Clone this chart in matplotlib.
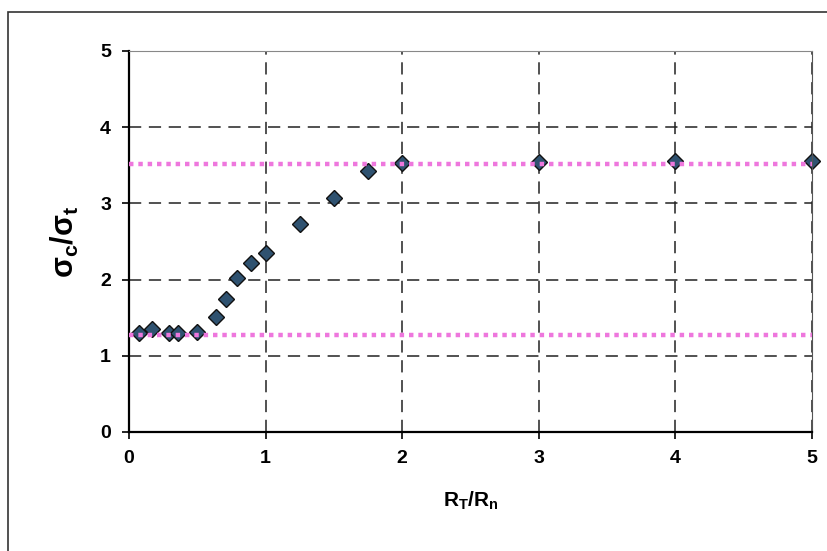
import matplotlib
matplotlib.use('Agg')
import matplotlib.pyplot as plt
from matplotlib.patches import Rectangle

# ratio R_T/R_n and the measured sigma_c/sigma_t
rt_rn = [0.07, 0.17, 0.29, 0.36, 0.50, 0.64, 0.71, 0.79, 0.89, 1.00,
         1.25, 1.50, 1.75, 2.0, 3.0, 4.0, 5.0]
sig_ratio = [1.30, 1.35, 1.30, 1.30, 1.31, 1.51, 1.75, 2.02, 2.22, 2.35,
             2.73, 3.07, 3.42, 3.53, 3.54, 3.55, 3.56]

# horizontal reference levels (pink dotted)
lower_level = 1.27
upper_level = 3.52

x_ticks = [0, 1, 2, 3, 4, 5]
y_ticks = [0, 1, 2, 3, 4, 5]

plt.rcParams['font.family'] = ['Liberation Sans', 'DejaVu Sans']

fig = plt.figure(figsize=(8.27, 5.51), dpi=100)
# outer chart border
fig.patches.append(Rectangle((8 / 827, -0.05), 1.0, 1 - 12 / 551 + 0.05,
                             transform=fig.transFigure, fill=False,
                             edgecolor='#333333', linewidth=1.2))

ax = fig.add_axes([129 / 827, 1 - 432 / 551, (812 - 129) / 827, (432 - 51) / 551])

ax.plot([0, 5], [lower_level, lower_level], color='#ee77dd', linestyle=(0, (1, 1.1)),
        linewidth=3.2, zorder=3)
ax.plot([0, 5], [upper_level, upper_level], color='#ee77dd', linestyle=(0, (1, 1.1)),
        linewidth=3.2, zorder=3)
ax.plot(rt_rn, sig_ratio, linestyle='none', marker='D', markersize=8,
        markerfacecolor='#2f5270', markeredgecolor='#111111', markeredgewidth=1,
        zorder=2, clip_on=False)

ax.set_xlim(0, 5)
ax.set_ylim(0, 5)
ax.set_xticks(x_ticks)
ax.set_yticks(y_ticks)
ax.grid(True, color='#222222', linestyle=(0, (8, 5)), linewidth=1.1)
ax.set_axisbelow(True)

ax.spines['left'].set_linewidth(1.6)
ax.spines['bottom'].set_linewidth(1.6)
ax.spines['top'].set_color('#888888')
ax.spines['right'].set_color('#555555')

ax.tick_params(direction='out', length=5, width=1.2, labelsize=14, pad=8)
for lab in ax.get_xticklabels() + ax.get_yticklabels():
    lab.set_fontweight('bold')

ax.set_xlabel('R$_\\mathregular{T}$/R$_\\mathregular{n}$', fontsize=15, fontweight='bold', labelpad=16)
ax.set_ylabel('σ$_\\mathregular{c}$/σ$_\\mathregular{t}$', fontsize=22, fontweight='bold', labelpad=14)

fig.savefig('out.png', dpi=100)
